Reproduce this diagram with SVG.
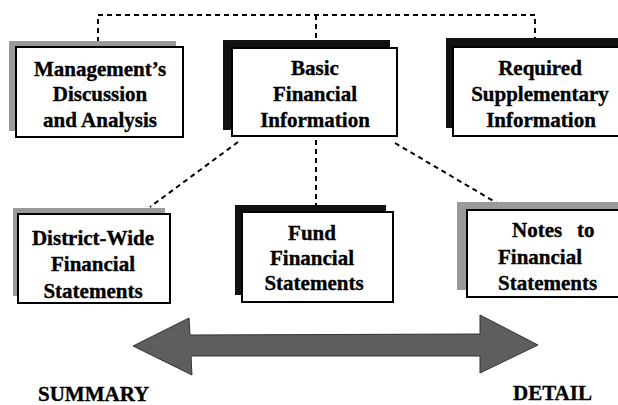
<svg xmlns="http://www.w3.org/2000/svg" width="618" height="405" viewBox="0 0 618 405">
<defs>
<style>
.box{fill:#fff;stroke:#000;stroke-width:2}
.sg{fill:#9a9a9a}
.sb{fill:#111}
.t{font-family:"Liberation Serif","Times New Roman",serif;font-weight:bold;font-size:21px;fill:#000;stroke:#000;stroke-width:0.35;text-anchor:middle}
.tl{font-family:"Liberation Serif","Times New Roman",serif;font-weight:bold;font-size:21px;fill:#000;stroke:#000;stroke-width:0.35}
.d{fill:none;stroke:#000;stroke-width:2;stroke-dasharray:5 4}
</style>
</defs>
<rect width="618" height="405" fill="#fff"/>
<g id="connectors">
<polyline class="d" points="98,42 98,15 535,15 535,38"/>
<line class="d" x1="316" y1="15" x2="316" y2="40"/>
<line class="d" x1="238" y1="142" x2="150" y2="207"/>
<line class="d" x1="316" y1="140" x2="316" y2="205"/>
<line class="d" x1="395" y1="143" x2="502" y2="206"/>
</g>
<g id="mda">
<rect class="sg" x="9" y="41" width="167" height="90"/>
<rect class="box" x="16" y="47" width="167" height="90"/>
<text class="t" x="100" y="76">Management’s</text>
<text class="t" x="100" y="101">Discussion</text>
<text class="t" x="100" y="127">and Analysis</text>
</g>
<g id="basic">
<rect class="sb" x="223" y="40" width="167" height="90"/>
<rect class="box" x="232" y="48" width="165" height="88"/>
<text class="t" x="315" y="75">Basic</text>
<text class="t" x="315" y="101">Financial</text>
<text class="t" x="315" y="127">Information</text>
</g>
<g id="rsi">
<rect class="sb" x="446" y="38" width="180" height="90"/>
<rect class="box" x="453" y="47" width="175" height="89"/>
<text class="t" x="540" y="75">Required</text>
<text class="t" x="540" y="101">Supplementary</text>
<text class="t" x="541" y="127">Information</text>
</g>
<g id="district">
<rect class="sg" x="13" y="208" width="152" height="88"/>
<rect class="box" x="18" y="214" width="152" height="89"/>
<text class="t" x="93" y="245">District-Wide</text>
<text class="t" x="93" y="271">Financial</text>
<text class="t" x="93" y="298">Statements</text>
</g>
<g id="fund">
<rect class="sb" x="235" y="205" width="151" height="90"/>
<rect class="box" x="242" y="212" width="151" height="90"/>
<text class="t" x="312" y="240">Fund</text>
<text class="t" x="312" y="265">Financial</text>
<text class="t" x="314" y="290">Statements</text>
</g>
<g id="notes">
<rect class="sg" x="457" y="202" width="170" height="88"/>
<rect class="box" x="467" y="210" width="160" height="87"/>
<text class="tl" y="237"><tspan x="512">Notes</tspan><tspan x="577">to</tspan></text>
<text class="tl" x="498" y="264">Financial</text>
<text class="tl" x="498" y="290">Statements</text>
</g>
<g id="scale">
<polygon points="133,346 189,318 190,335 480,334 480,315 538,345 480,373 480,356 191,356 192,375" fill="#5e5e5e" stroke="#333" stroke-width="1"/>
<text class="tl" x="38" y="401">SUMMARY</text>
<text class="tl" x="513" y="400">DETAIL</text>
</g>
</svg>
